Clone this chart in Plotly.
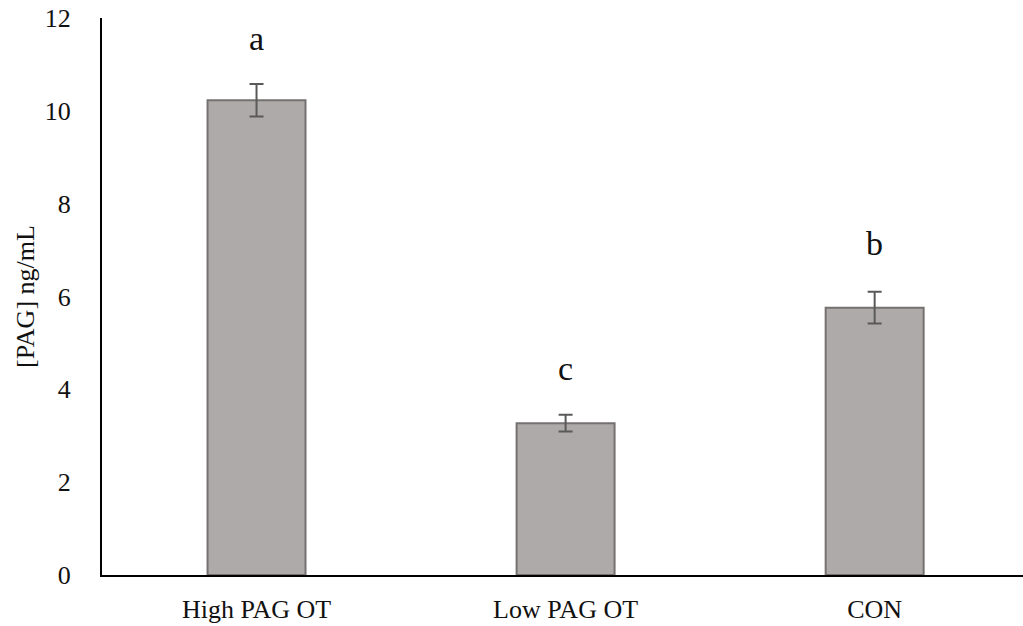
import plotly.graph_objects as go

categories = ["High PAG OT", "Low PAG OT", "CON"]
means = [10.23, 3.27, 5.76]
errors = [0.35, 0.18, 0.34]
letters = ["a", "c", "b"]
letter_y = [11.55, 4.45, 7.15]
y_ticks = [0, 2, 4, 6, 8, 10, 12]

FONT = "Liberation Serif, Times New Roman, serif"

fig = go.Figure()
fig.add_trace(go.Bar(
    x=categories,
    y=means,
    width=0.317,
    marker=dict(color="#AEAAAA", line=dict(color="#767171", width=2)),
    error_y=dict(type="data", array=errors, visible=True,
                 color="#595959", thickness=2, width=7),
    showlegend=False,
))

for c, t, ly in zip(categories, letters, letter_y):
    fig.add_annotation(x=c, y=ly, text=t, showarrow=False,
                       xref="x", yref="y", yanchor="middle",
                       font=dict(family=FONT, size=34, color="#111111"))

fig.update_layout(
    width=1023, height=626,
    margin=dict(l=102, r=0, t=18, b=51),
    paper_bgcolor="white", plot_bgcolor="white",
    font=dict(family=FONT, size=26, color="#111111"),
    bargap=0.683,
)
fig.update_xaxes(
    range=[-0.5, 2.48],
    showline=True, linecolor="black", linewidth=2,
    showgrid=False, ticks="", ticklabelstandoff=10,
    tickfont=dict(family=FONT, size=26, color="#111111"),
)
fig.update_yaxes(
    range=[0, 12], tickvals=y_ticks,
    showline=True, linecolor="black", linewidth=2,
    showgrid=False, zeroline=False, ticks="", ticklabelstandoff=24,
    tickfont=dict(family=FONT, size=26, color="#111111"),
    title=dict(text="[PAG] ng/mL", standoff=3,
               font=dict(family=FONT, size=26, color="#111111")),
)

fig.write_html("out.html")
